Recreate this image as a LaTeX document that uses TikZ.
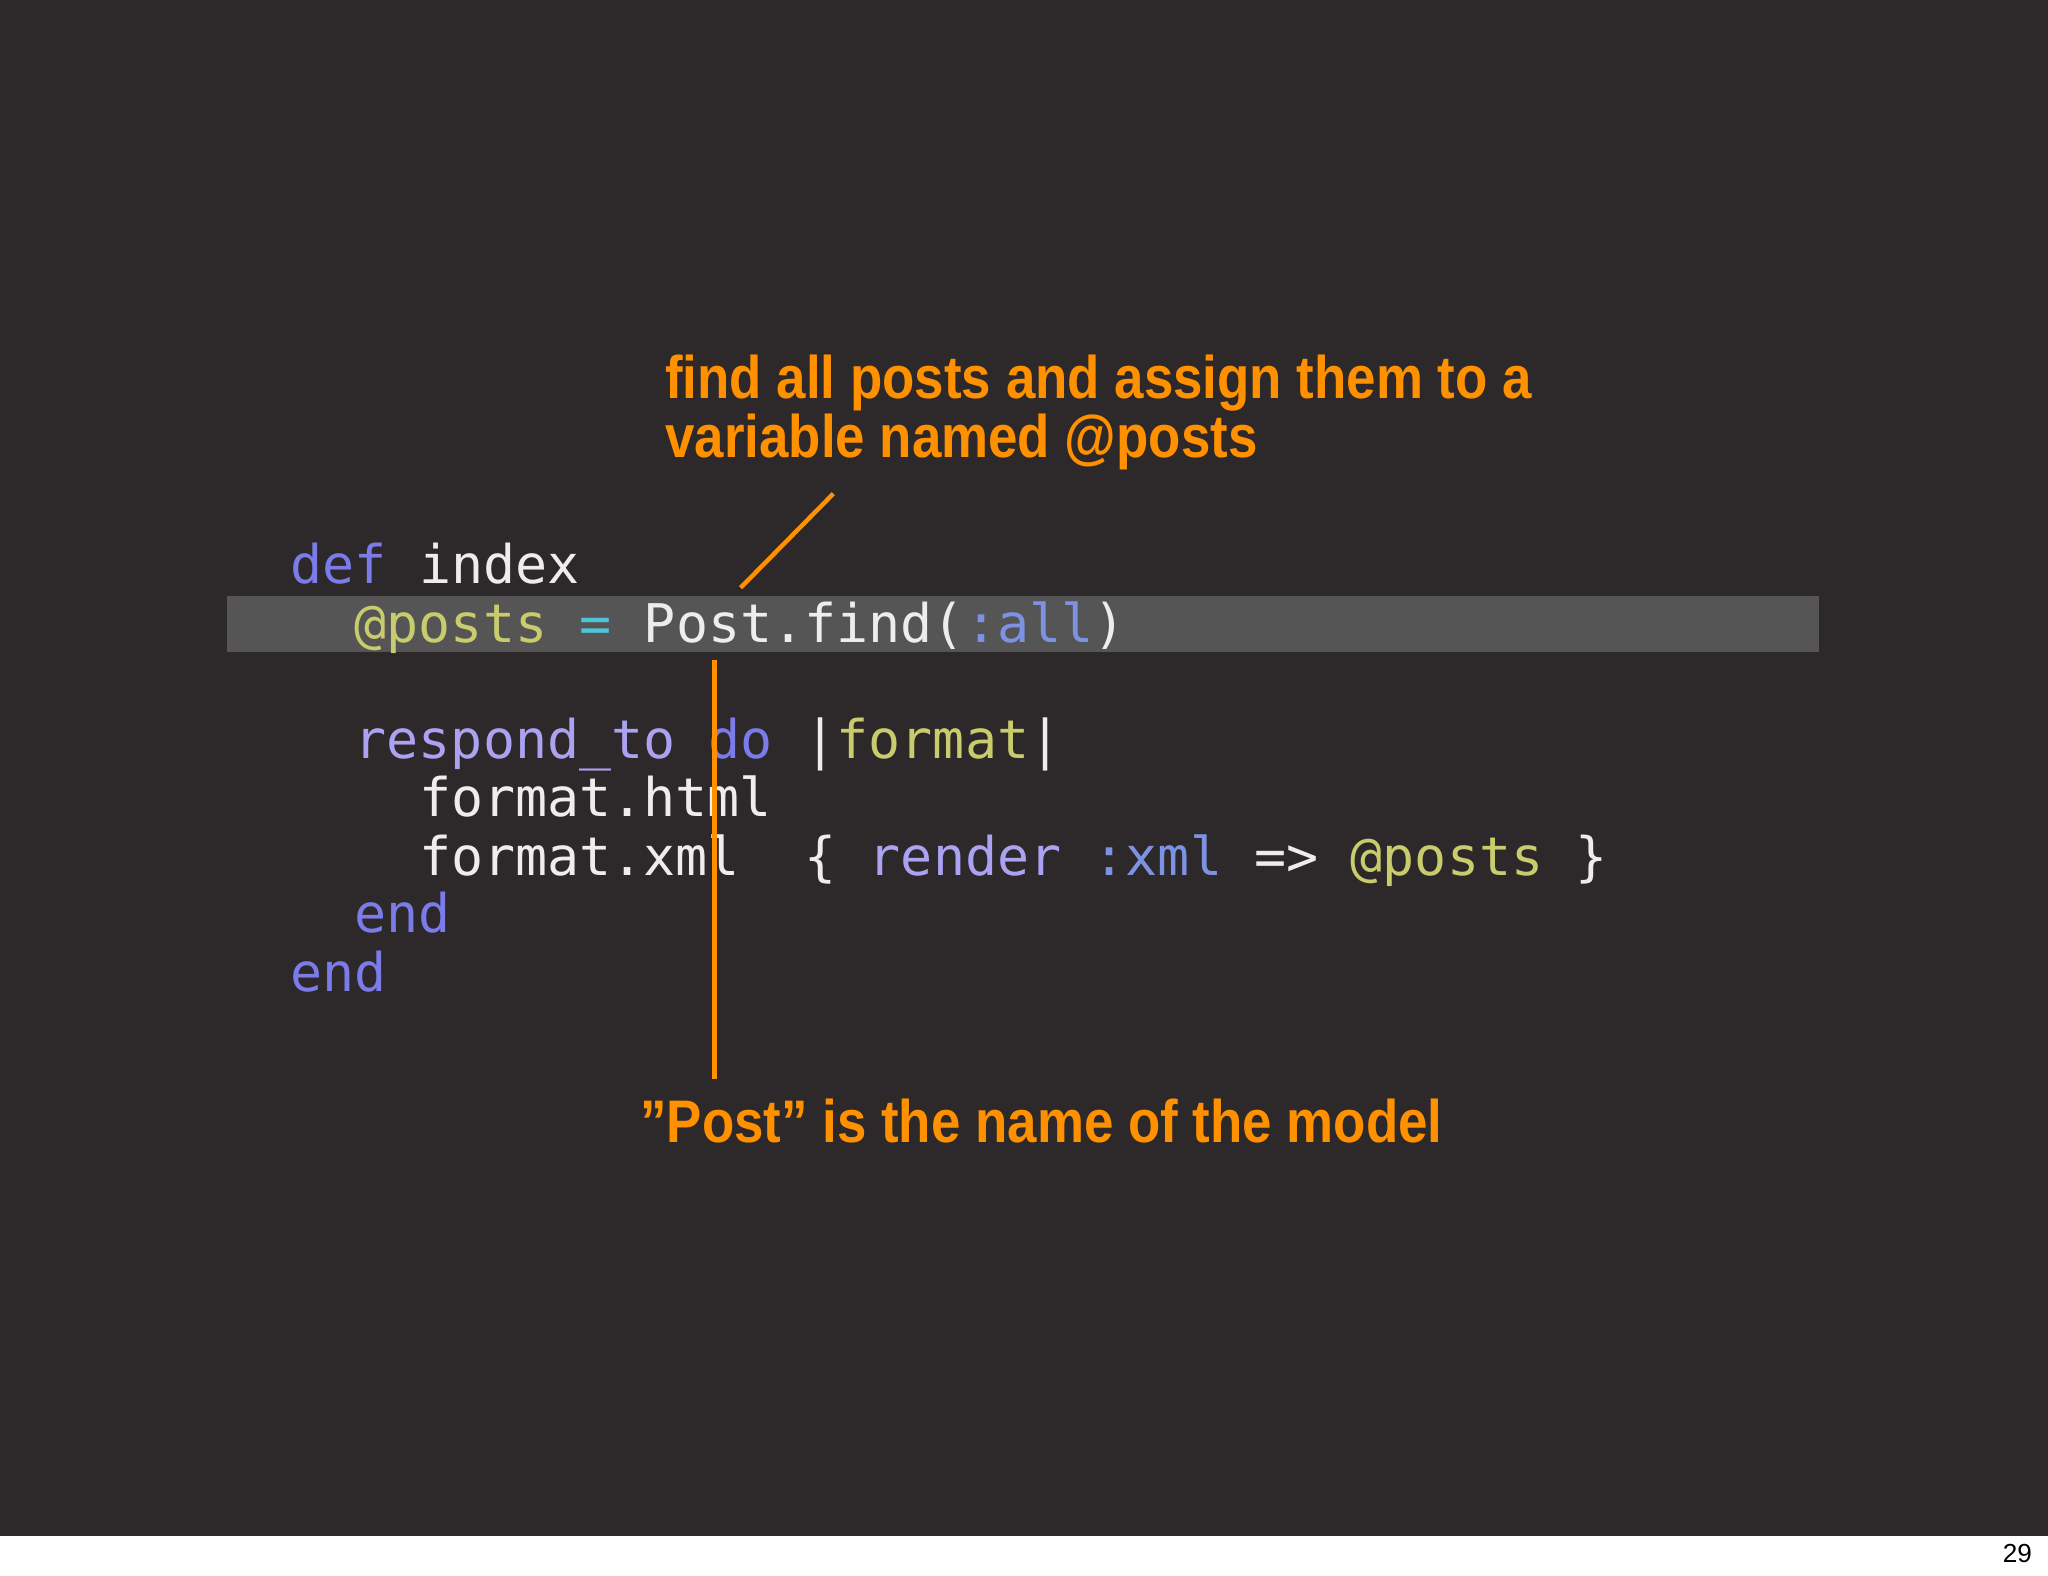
\documentclass[tikz,border=0pt]{standalone}
\usepackage{fontspec}
\setmonofont{DejaVu Sans Mono}
\setmainfont{Liberation Sans}
\definecolor{bg}{HTML}{2D2829}
\definecolor{bar}{HTML}{555555}
\definecolor{kw}{HTML}{7B7BEA}
\definecolor{lav}{HTML}{ABA3F2}
\definecolor{ivar}{HTML}{C9CC6C}
\definecolor{sym}{HTML}{7D92E2}
\definecolor{eqc}{HTML}{4FC3D8}
\definecolor{txt}{HTML}{EDEDED}
\definecolor{org}{HTML}{FF9000}
\newcommand{\tk}[4]{\node[code,text=#3] at ({222+#1*24.6},#2) {#4};}
\begin{document}
\begin{tikzpicture}[x=0.5pt,y=-0.5pt,
  code/.style={anchor=base west,inner sep=0pt,font=\ttfamily\fontsize{20.4pt}{24pt}\selectfont},
  note/.style={anchor=base west,inner sep=0pt,text=org,font=\bfseries\fontsize{23pt}{27pt}\selectfont,xscale=0.88},
  lead/.style={draw=org,line width=1.7pt}]
\useasboundingbox (0,0) rectangle (1568,1206);
\fill[white] (0,0) rectangle (1568,1206);
\fill[bg] (0,0) rectangle (1568,1176);
\fill[bar] (174,456) rectangle (1393,499);
\tk{0}{447}{kw}{def}
\tk{4}{447}{txt}{index}
\tk{2}{492}{ivar}{@posts}
\tk{9}{492}{eqc}{=}
\tk{11}{492}{txt}{Post.find(}
\tk{21}{492}{sym}{:all}
\tk{25}{492}{txt}{)}
\tk{2}{581}{lav}{respond\_to}
\tk{13}{581}{kw}{do}
\tk{16}{581}{txt}{|}
\tk{17}{581}{ivar}{format}
\tk{23}{581}{txt}{|}
\tk{4}{625}{txt}{format.html}
\tk{4}{670}{txt}{format.xml}
\tk{16}{670}{txt}{\{}
\tk{18}{670}{lav}{render}
\tk{25}{670}{sym}{:xml}
\tk{30}{670}{txt}{=>}
\tk{33}{670}{ivar}{@posts}
\tk{40}{670}{txt}{\}}
\tk{2}{714}{kw}{end}
\tk{0}{759}{kw}{end}
\node[note] (n1) at (509,305) {find all posts and assign them to a};
\node[note] (n2) at (509,350) {variable named @posts};
\node[note] (n3) at (490,875) {”Post” is the name of the model};
\coordinate (a1) at (638,378); \coordinate (a2) at (567,450);
\coordinate (b1) at (547,505); \coordinate (b2) at (547,826);
\draw[lead] (a1) -- (a2);
\draw[lead] (b1) -- (b2);
\node[anchor=base east,inner sep=0pt,font=\fontsize{10pt}{12pt}\selectfont] (pg) at (1556,1196) {29};
\end{tikzpicture}
\end{document}
